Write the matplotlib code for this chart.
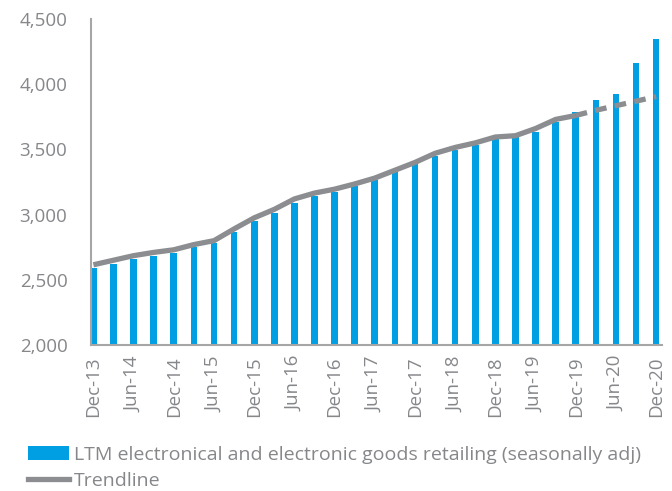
import matplotlib
matplotlib.use("Agg")
import matplotlib.pyplot as plt
from matplotlib.lines import Line2D
from matplotlib.patches import Patch
import numpy as np

plt.rcParams['font.family'] = ['Open Sans', 'DejaVu Sans']

quarters = ["Dec-13", "Mar-14", "Jun-14", "Sep-14", "Dec-14", "Mar-15", "Jun-15", "Sep-15",
            "Dec-15", "Mar-16", "Jun-16", "Sep-16", "Dec-16", "Mar-17", "Jun-17", "Sep-17",
            "Dec-17", "Mar-18", "Jun-18", "Sep-18", "Dec-18", "Mar-19", "Jun-19", "Sep-19",
            "Dec-19", "Mar-20", "Jun-20", "Sep-20", "Dec-20"]
sales = [2590, 2620, 2660, 2685, 2705, 2750, 2780, 2870, 2950, 3010, 3090, 3145, 3175, 3220,
         3265, 3325, 3385, 3450, 3495, 3535, 3585, 3595, 3635, 3710, 3790, 3880, 3925, 4160, 4350]
trend_actual = [2615, 2650, 2685, 2710, 2730, 2770, 2800, 2890, 2975, 3040, 3120, 3165, 3195,
                3235, 3280, 3340, 3400, 3470, 3515, 3550, 3595, 3605, 3660, 3730, 3760]
trend_forecast = [3760, 3800, 3835, 3870, 3905]

bar_color = "#009FE3"
line_color = "#8C8D90"
text_color = "#85878A"
fs = 13.5

fig = plt.figure(figsize=(6.72, 4.91), dpi=100)
ax = fig.add_axes([0.1354, 0.2974, 0.85, 0.6639])

x = np.arange(len(quarters))
ax.bar(x, sales, width=0.33, color=bar_color, zorder=2)
n_act = len(trend_actual)
ax.plot(x[:n_act], trend_actual, color=line_color, lw=3.8, solid_capstyle='butt', zorder=3)
ax.plot(x[n_act - 1:], trend_forecast, color=line_color, lw=3.8, linestyle=(0, (2.2, 1.6)),
        dash_capstyle='butt', zorder=3)

ax.set_ylim(2000, 4500)
ax.set_yticks(np.arange(2000, 4501, 500))
ax.set_yticklabels([f"{v:,}" for v in range(2000, 4501, 500)])
ax.set_xlim(-0.12, 28.3)
ax.set_xticks(x[::2])
ax.set_xticklabels(quarters[::2], rotation=90)

for s in ['top', 'right']:
    ax.spines[s].set_visible(False)
for s in ['left', 'bottom']:
    ax.spines[s].set_color("#A6A6A6")
    ax.spines[s].set_linewidth(1.5)
ax.tick_params(axis='both', length=0, colors=text_color, labelsize=fs)
ax.tick_params(axis='x', pad=8)
ax.tick_params(axis='y', pad=17)

handles = [Patch(facecolor=bar_color, edgecolor='none'),
           Line2D([0], [0], color=line_color, lw=3.8)]
labels = ["LTM electronical and electronic goods retailing (seasonally adj)", "Trendline"]
leg = fig.legend(handles, labels, loc='upper left', bbox_to_anchor=(0.042, 0.092),
                 bbox_transform=fig.transFigure, frameon=False, fontsize=14,
                 handlelength=2.1, handletextpad=0.25, labelspacing=0.4, borderpad=0,
                 borderaxespad=0)
for t in leg.get_texts():
    t.set_color(text_color)

fig.savefig("out.png", dpi=100)
